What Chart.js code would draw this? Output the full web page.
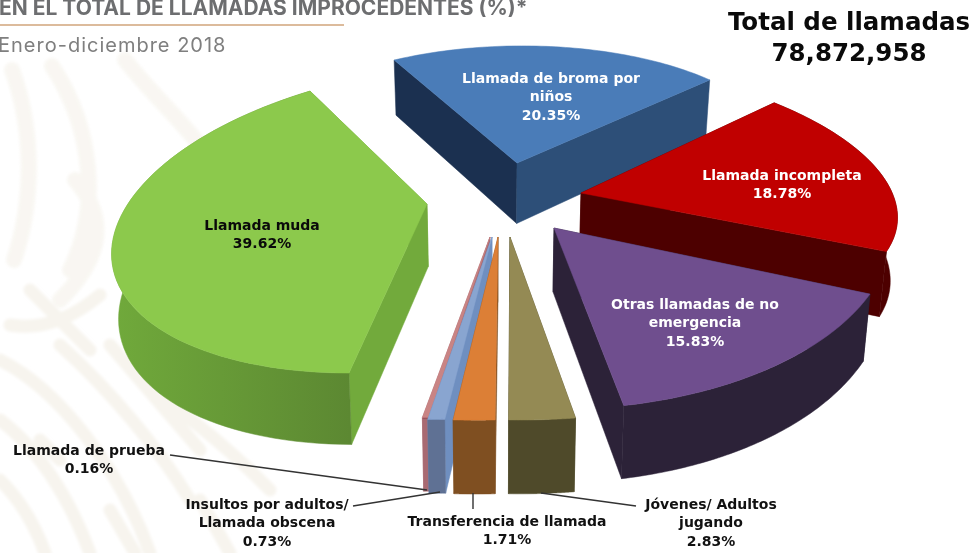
<!DOCTYPE html>
<html lang="es">
<head>
<meta charset="utf-8">
<title>Llamadas improcedentes</title>
<script src="https://cdn.jsdelivr.net/npm/chart.js@4"></script>
<style>
html,body{margin:0;padding:0;background:#fff;}
#wrap{position:relative;width:973px;height:553px;overflow:hidden;font-family:Inter,"Open Sans",sans-serif;}
#wm{position:absolute;left:0;top:0;}
#c{position:absolute;left:0;top:0;}
.t{position:absolute;white-space:nowrap;}
#title{left:-1px;top:-5px;font-size:21px;font-weight:700;color:#6d6e70;}
#rule{position:absolute;left:0;top:24px;width:344px;height:2px;background:#dcbb9c;}
#sub{left:-2px;top:33px;font-size:20px;color:#7f7f7f;letter-spacing:1px;}
.tot{width:260px;left:719px;text-align:center;font-family:"DejaVu Sans",sans-serif;font-size:24.5px;font-weight:700;color:#0a0a0a;}
</style>
</head>
<body>
<div id="wrap">
  <svg id="wm" width="973" height="553" fill="none" stroke="#f7f4ee" stroke-linecap="round">
    <filter id="soft"><feGaussianBlur stdDeviation="1.5"/></filter>
    <g stroke-width="16" filter="url(#soft)" opacity=".75">
      <path d="M12 70C34 130 34 200 14 260"/>
      <path d="M52 66C94 130 100 210 70 270"/>
      <path d="M125 60C165 110 195 130 230 190"/>
      <path d="M75 180C110 220 100 260 60 300"/>
    </g>
    <g stroke-width="13" filter="url(#soft)">
      <path d="M30 290L90 350"/>
      <path d="M100 295C70 320 40 330 10 325"/>
      <path d="M0 360C60 390 120 470 150 553"/>
      <path d="M60 345C110 390 160 450 190 500"/>
      <path d="M110 345L200 450"/>
      <path d="M0 420C40 450 70 500 90 553"/>
      <path d="M0 480C20 500 35 525 45 553"/>
      <path d="M165 400C220 440 250 470 270 490"/>
      <path d="M40 440L60 460"/>
      <path d="M110 510L135 553"/>
      <path d="M200 500L230 553"/>
    </g>
  </svg>
  <canvas id="c" width="973" height="553"></canvas>
  <div class="t" id="title">EN EL TOTAL DE LLAMADAS IMPROCEDENTES (%)*</div>
  <div id="rule"></div>
  <div class="t" id="sub">Enero-diciembre 2018</div>
  <div class="t tot" style="top:7px">Total de llamadas</div>
  <div class="t tot" style="top:38px">78,872,958</div>
</div>
<script>
var categories = ['Llamada de broma por niños','Llamada incompleta','Otras llamadas de no emergencia','Jóvenes/ Adultos jugando','Transferencia de llamada','Insultos por adultos/ Llamada obscena','Llamada de prueba','Llamada muda'];
var shares = [20.35,18.78,15.83,2.83,1.71,0.73,0.16,39.62];

var topColors = ['#4a7cb8','#c00000','#6f4e8e','#948a54','#dc7f36','#89a5d0','#c98484','#8cc94c'];
var startWall = ['#1b3050','#4d0000','#2c2238','#4f4a2a','#7f4f21','#6f8fc0','#a86a72','#72aa3c'];
var endWall   = ['#2d4f78','#4d0000','#2c2238','#4f4a2a','#7f4f21','#6f8fc0','#a86a72','#72aa3c'];
// the top slice faces away, so it has no outer wall to show
var arcWall   = [null,'#4d0000','#2c2238','#4f4a2a','#7f4f21','#5f7194','#a86a72','#659a36'];

// one view per slice: unit circle to screen, [a,b,c,d,tx,ty,g,h]
var sliceViews = [
  [268,-5,6,117,517,163,0,0],
  [312,2,53,135,581,193,0,0],
  [338,-11,22,181,554,228,0,0],
  [378,-1,12,183,510,237,0,0],
  [392,-16,11,182.5,498,237,0,0],
  [374,-30,6,180,492,237,0,0],
  [596,-36,51,177,490,237,0,0],
  [308,-30,-10,150,427,204,.0155,-.094]
];
// back to front
var paintOrder = [0,7,1,2,6,5,4,3];

// label text lines, colour, centre x, first line y
var labelLines = [
  {lines:['Llamada de broma por','niños'],i:0,color:'#fff',x:551,y:79},
  {lines:['Llamada incompleta'],i:1,color:'#fff',x:782,y:176},
  {lines:['Otras llamadas de no','emergencia'],i:2,color:'#fff',x:695,y:305},
  {lines:['Llamada muda'],i:7,color:'#0a0a0a',x:262,y:226},
  {lines:['Llamada de prueba'],i:6,color:'#111',x:89,y:451},
  {lines:['Insultos por adultos/','Llamada obscena'],i:5,color:'#111',x:267,y:505},
  {lines:['Transferencia de llamada'],i:4,color:'#111',x:507,y:522},
  {lines:['Jóvenes/ Adultos','jugando'],i:3,color:'#111',x:711,y:505}
];
var leaders = [
  [170,455,427,490],
  [353,506,440,492],
  [473,493,473,509],
  [541,493,636,506]
];

function project(v, ux, uy) {
  var w = 1 + v[6]*ux + v[7]*uy;
  return {x: v[4] + (v[0]*ux + v[2]*uy)/w, y: v[5] + (v[1]*ux + v[3]*uy)/w};
}
// bottom of the wall under a top face point
function lower(p) {
  return {x: p.x + (497 - p.x)*.018, y: p.y + 52 + .052*p.y};
}
function poly(ctx, pts, fill) {
  ctx.beginPath();
  pts.forEach(function(p, i){ if (i) ctx.lineTo(p.x, p.y); else ctx.moveTo(p.x, p.y); });
  ctx.closePath();
  ctx.fillStyle = fill;
  ctx.fill();
  ctx.strokeStyle = fill;
  ctx.lineWidth = .5;
  ctx.stroke();
}

var pie3d = {
  id:'pie3d',
  beforeDatasetDraw:function(chart){
    var ctx = chart.ctx;
    var arcs = chart.getDatasetMeta(0).data;
    paintOrder.forEach(function(i){
      var arc = arcs[i], v = sliceViews[i];
      var apex = project(v, 0, 0), rim = [], n = 70, k;
      for (k = 0; k <= n; k++) {
        var a = arc.startAngle + (arc.endAngle - arc.startAngle)*k/n;
        rim.push(project(v, Math.cos(a), Math.sin(a)));
      }
      var lowRim = rim.map(lower), lowApex = lower(apex);
      poly(ctx, [apex, rim[0], lowRim[0], lowApex], startWall[i]);
      poly(ctx, [apex, rim[n], lowRim[n], lowApex], endWall[i]);
      var wall = arcWall[i];
      if (i === 7) {
        // the big slice darkens toward its front corner
        wall = ctx.createLinearGradient(115, 0, 350, 0);
        wall.addColorStop(0, '#70a93b');
        wall.addColorStop(1, '#5c8832');
      }
      if (wall) poly(ctx, rim.concat(lowRim.slice().reverse()), wall);
      poly(ctx, [apex].concat(rim), arc.options.backgroundColor);
    });
    return false;
  },
  afterDatasetsDraw:function(chart){
    var ctx = chart.ctx;
    ctx.save();
    ctx.strokeStyle = '#333';
    ctx.lineWidth = 1.4;
    leaders.forEach(function(l){
      ctx.beginPath(); ctx.moveTo(l[0], l[1]); ctx.lineTo(l[2], l[3]); ctx.stroke();
    });
    ctx.font = '700 14px "DejaVu Sans", sans-serif';
    ctx.textAlign = 'center';
    ctx.textBaseline = 'middle';
    labelLines.forEach(function(l){
      ctx.fillStyle = l.color;
      l.lines.concat(shares[l.i].toFixed(2) + '%').forEach(function(s, j){
        ctx.fillText(s, l.x, l.y + j*18.8);
      });
    });
    ctx.restore();
  }
};

new Chart(document.getElementById('c'), {
  type:'pie',
  data:{
    labels:categories,
    datasets:[{data:shares, backgroundColor:topColors, borderWidth:0}]
  },
  options:{
    responsive:false,
    animation:false,
    rotation:-26,
    plugins:{legend:{display:false}, tooltip:{enabled:false}}
  },
  plugins:[pie3d]
});
</script>
</body>
</html>
